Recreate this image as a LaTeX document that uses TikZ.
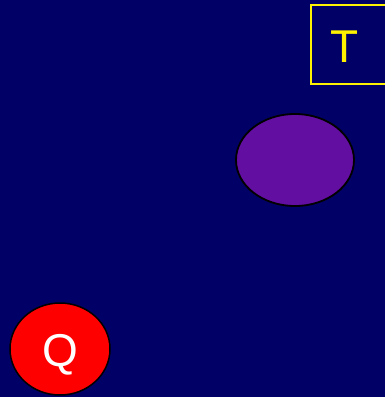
\documentclass[tikz,border=0pt]{standalone}
\usepackage{fontspec}
\setmainfont{Liberation Sans}
\usetikzlibrary{shapes.geometric}
\definecolor{navy}{RGB}{0,0,102}
\definecolor{plum}{RGB}{98,14,160}
\tikzset{
  lbl/.style={font=\fontsize{46}{46}\selectfont, inner sep=0pt, anchor=base},
}
\begin{document}
\begin{tikzpicture}[x=1pt,y=-1pt]
\useasboundingbox (0,0) rectangle (385,397);
\fill[navy] (0,0) rectangle (385,397);
\clip (0,0) rectangle (385,397);
\node[draw=yellow, line width=2pt, minimum width=77pt, minimum height=79pt, inner sep=0pt] (box) at (349,44.5) {};
\node[lbl, text=yellow] (t) at (345,62) {T};
\node[ellipse, draw=black, line width=1.8pt, fill=plum, minimum width=118pt, minimum height=92pt, inner sep=0pt] (ell) at (295,160) {};
\node[ellipse, draw=black, line width=1.5pt, fill=red, minimum width=100pt, minimum height=92pt, inner sep=0pt] (circ) at (60,349) {};
\node[lbl, text=white] (q) at (60,366) {Q};
\end{tikzpicture}
\end{document}
